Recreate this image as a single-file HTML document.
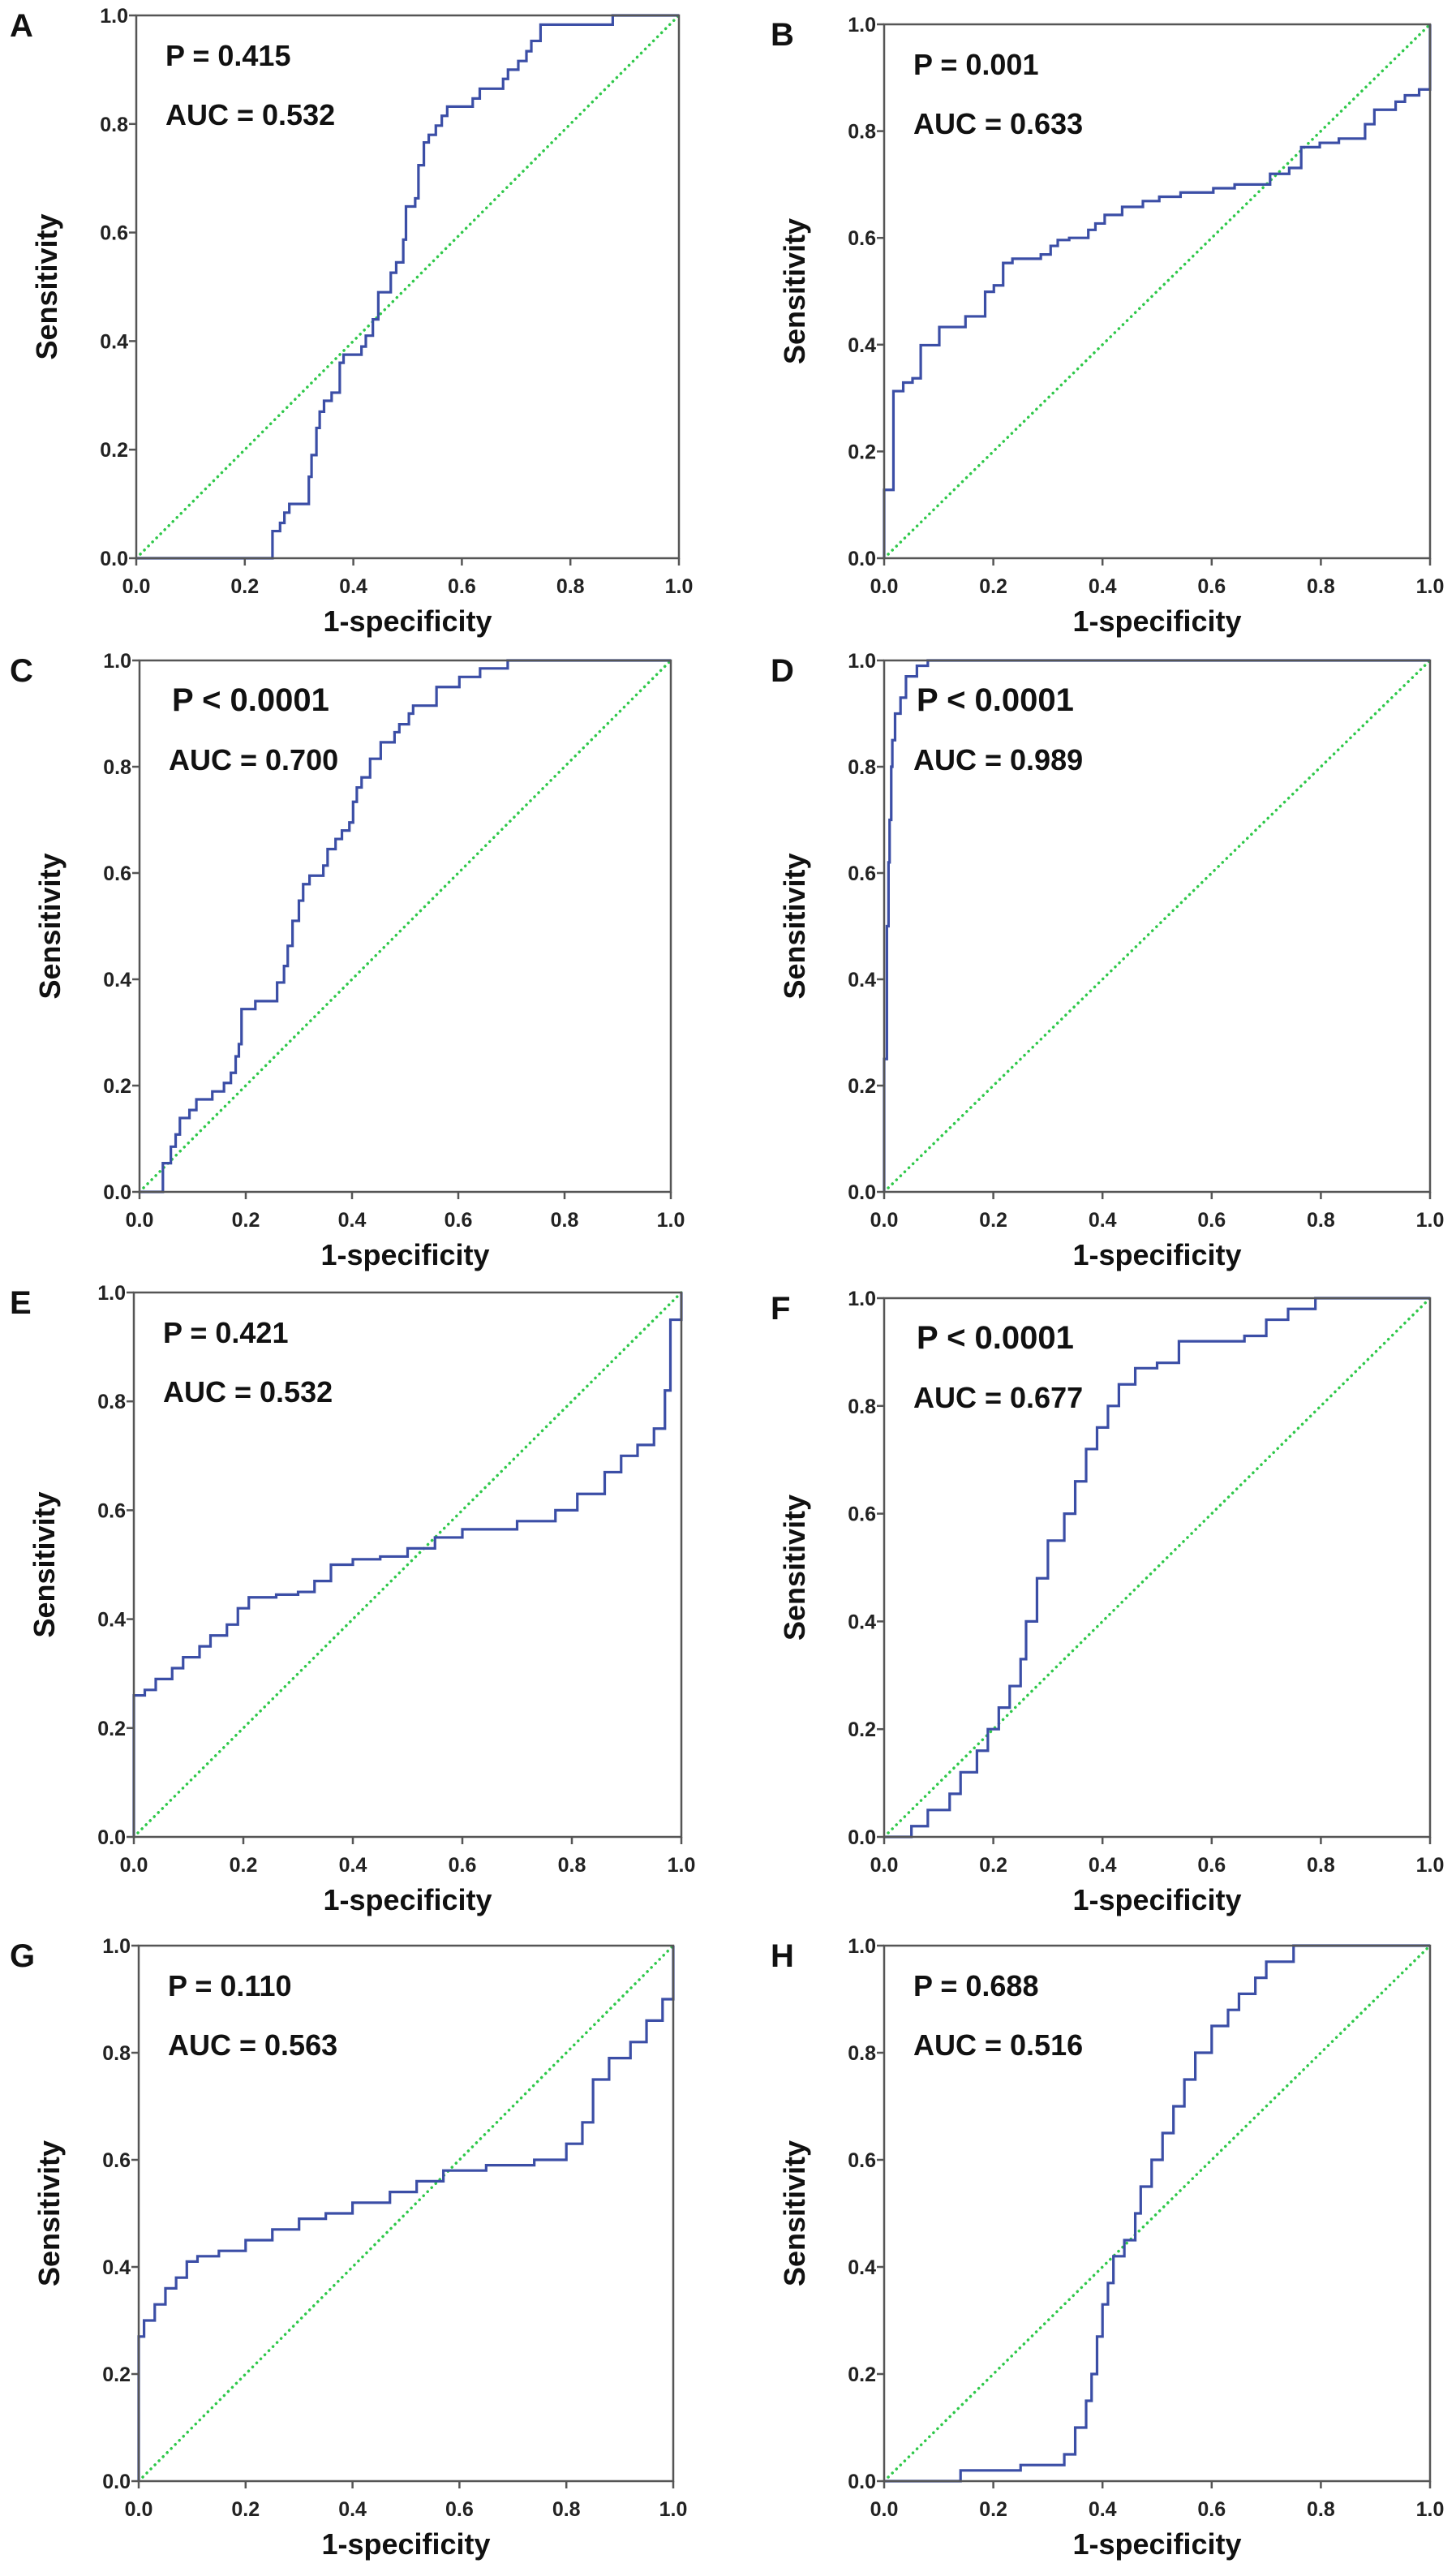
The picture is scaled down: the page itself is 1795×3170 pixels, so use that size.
<!DOCTYPE html>
<html><head><meta charset="utf-8"><style>
html,body{margin:0;padding:0;background:#fff;}
svg{display:block;font-family:"Liberation Sans",Arial,sans-serif;}
</style></head><body>
<svg id="fig" width="1795" height="3170" viewBox="0 0 1795 3170" xmlns="http://www.w3.org/2000/svg"></svg>
<script>
// Panel data (ROC step vertices: horizontal to fpr, then vertical to tpr)
const fprA=[0.251,0.265,0.273,0.282,0.318,0.323,0.332,0.338,0.346,0.36,0.375,0.382,0.415,0.423,0.436,0.446,0.469,0.479,0.492,0.497,0.514,0.52,0.53,0.539,0.552,0.563,0.573,0.62,0.633,0.676,0.685,0.704,0.719,0.728,0.745,0.878,1.0];
const tprA=[0.05,0.065,0.084,0.10,0.15,0.19,0.24,0.27,0.29,0.305,0.36,0.375,0.39,0.41,0.44,0.49,0.526,0.545,0.587,0.648,0.663,0.724,0.766,0.78,0.797,0.815,0.832,0.847,0.865,0.883,0.90,0.916,0.934,0.953,0.983,1.0,1.0];
const fprB=[0,0.017,0.035,0.052,0.067,0.101,0.149,0.185,0.201,0.218,0.235,0.287,0.305,0.318,0.339,0.374,0.387,0.404,0.436,0.474,0.504,0.543,0.603,0.642,0.707,0.742,0.764,0.798,0.833,0.881,0.898,0.937,0.954,0.98,1.0];
const tprB=[0.128,0.313,0.329,0.337,0.399,0.433,0.453,0.499,0.511,0.553,0.561,0.569,0.585,0.596,0.60,0.615,0.627,0.643,0.658,0.669,0.677,0.685,0.693,0.70,0.72,0.731,0.77,0.778,0.786,0.813,0.84,0.855,0.867,0.878,1.0];
const fprC=[0.044,0.059,0.068,0.076,0.094,0.107,0.137,0.159,0.172,0.181,0.187,0.192,0.218,0.259,0.272,0.279,0.288,0.30,0.308,0.32,0.346,0.354,0.369,0.381,0.395,0.402,0.409,0.418,0.434,0.454,0.48,0.489,0.507,0.515,0.559,0.602,0.641,0.693,1.0];
const tprC=[0.054,0.085,0.108,0.139,0.154,0.174,0.189,0.205,0.224,0.255,0.278,0.344,0.359,0.394,0.425,0.463,0.51,0.548,0.579,0.595,0.614,0.645,0.664,0.68,0.695,0.734,0.761,0.78,0.815,0.846,0.865,0.88,0.90,0.915,0.95,0.969,0.985,1.0,1.0];
const fprD=[0,0.005,0.008,0.01,0.013,0.015,0.02,0.03,0.04,0.06,0.08,1.0];
const tprD=[0.25,0.5,0.62,0.7,0.8,0.85,0.9,0.93,0.97,0.99,1.0,1.0];
const fprE=[0,0.02,0.04,0.07,0.09,0.12,0.14,0.17,0.19,0.21,0.26,0.3,0.33,0.36,0.4,0.45,0.5,0.55,0.6,0.7,0.77,0.81,0.86,0.89,0.92,0.95,0.97,0.98,1.0];
const tprE=[0.26,0.27,0.29,0.31,0.33,0.35,0.37,0.39,0.42,0.44,0.445,0.45,0.47,0.5,0.51,0.515,0.53,0.55,0.565,0.58,0.6,0.63,0.67,0.7,0.72,0.75,0.82,0.95,1.0];
const fprF=[0.05,0.08,0.12,0.14,0.17,0.19,0.21,0.23,0.25,0.26,0.28,0.3,0.33,0.35,0.37,0.39,0.41,0.43,0.46,0.5,0.54,0.66,0.7,0.74,0.79,1.0];
const tprF=[0.02,0.05,0.08,0.12,0.16,0.2,0.24,0.28,0.33,0.4,0.48,0.55,0.6,0.66,0.72,0.76,0.8,0.84,0.87,0.88,0.92,0.93,0.96,0.98,1.0,1.0];
const fprG=[0,0.01,0.03,0.05,0.07,0.09,0.11,0.15,0.2,0.25,0.3,0.35,0.4,0.47,0.52,0.57,0.65,0.74,0.8,0.83,0.85,0.88,0.92,0.95,0.98,1.0,1.0];
const tprG=[0.27,0.3,0.33,0.36,0.38,0.41,0.42,0.43,0.45,0.47,0.49,0.5,0.52,0.54,0.56,0.58,0.59,0.6,0.63,0.67,0.75,0.79,0.82,0.86,0.9,0.91,1.0];
const fprH=[0.14,0.25,0.33,0.35,0.37,0.38,0.39,0.4,0.41,0.42,0.44,0.46,0.47,0.49,0.51,0.53,0.55,0.57,0.6,0.63,0.65,0.68,0.7,0.75,1.0];
const tprH=[0.02,0.03,0.05,0.1,0.15,0.2,0.27,0.33,0.37,0.42,0.45,0.5,0.55,0.6,0.65,0.7,0.75,0.8,0.85,0.88,0.91,0.94,0.97,1.0,1.0];
const tickLabels=["0.0","0.2","0.4","0.6","0.8","1.0"];
const tickValues=[0,0.2,0.4,0.6,0.8,1.0];
const pLabels=["P = 0.415","P = 0.001","P < 0.0001","P < 0.0001","P = 0.421","P < 0.0001","P = 0.110","P = 0.688"];
const aucLabels=["AUC = 0.532","AUC = 0.633","AUC = 0.700","AUC = 0.989","AUC = 0.532","AUC = 0.677","AUC = 0.563","AUC = 0.516"];
const letters=["A","B","C","D","E","F","G","H"];

const panels=[
 {L:168,R:837,T:19,B:688,fx:fprA,ty:tprA,lx:12},
 {L:1090,R:1763,T:30,B:688,fx:fprB,ty:tprB,lx:950},
 {L:172,R:827,T:814,B:1469,fx:fprC,ty:tprC,lx:12},
 {L:1090,R:1763,T:814,B:1469,fx:fprD,ty:tprD,lx:950},
 {L:165,R:840,T:1593,B:2264,fx:fprE,ty:tprE,lx:12},
 {L:1090,R:1763,T:1600,B:2264,fx:fprF,ty:tprF,lx:950},
 {L:171,R:830,T:2398,B:3058,fx:fprG,ty:tprG,lx:12},
 {L:1090,R:1763,T:2398,B:3058,fx:fprH,ty:tprH,lx:950}
];
const NS="http://www.w3.org/2000/svg";
const svg=document.getElementById("fig");
function mk(tag,attrs,parent){const e=document.createElementNS(NS,tag);for(const k in attrs)e.setAttribute(k,attrs[k]);(parent||svg).appendChild(e);return e;}

panels.forEach((p,i)=>{
  const g=mk("g",{});
  
  
  const xs=v=>p.L+v*(p.R-p.L);
  const ys=v=>p.B-v*(p.B-p.T);
  // panel letter
  const lt=mk("text",{x:p.lx,y:p.T+26,"font-size":40,"font-weight":"bold",fill:"#111"},g);
  lt.textContent=letters[i];
  
  
  // diagonal reference
  const d=mk("line",{x1:xs(0),y1:ys(0),x2:xs(1),y2:ys(1),stroke:"#2fc84a","stroke-width":3.5,"stroke-dasharray":"0.1 7","stroke-linecap":"round"},g);
  
  
  // ROC curve
  let path="M"+xs(0)+","+ys(0);
  for(let k=0;k<p.fx.length;k++){path+=" H"+xs(p.fx[k])+" V"+ys(p.ty[k]);}
  const c=mk("path",{d:path,fill:"none",stroke:"#3b4ea6","stroke-width":3.2,"stroke-linejoin":"miter"},g);
  
  
  // frame
  const f=mk("rect",{x:p.L,y:p.T,width:p.R-p.L,height:p.B-p.T,fill:"none",stroke:"#555","stroke-width":2.5},g);
  
  
  // ticks
  tickValues.forEach((v,k)=>{
    const tx=mk("line",{x1:xs(v),y1:p.B,x2:xs(v),y2:p.B+9,stroke:"#555","stroke-width":2.5},g);
    
    
    const tl=mk("text",{x:xs(v),y:p.B+43,"font-size":25,"font-weight":"bold",fill:"#222","text-anchor":"middle"},g);
    tl.textContent=tickLabels[k];
    
    
    const ty=mk("line",{x1:p.L-9,y1:ys(v),x2:p.L,y2:ys(v),stroke:"#555","stroke-width":2.5},g);
    
    
    const yl=mk("text",{x:p.L-10,y:ys(v)+9,"font-size":25,"font-weight":"bold",fill:"#222","text-anchor":"end"},g);
    yl.textContent=tickLabels[k];
    
    
  });
  // axis titles
  const xt=mk("text",{x:(p.L+p.R)/2,y:p.B+90,"font-size":36,"font-weight":"bold",fill:"#111","text-anchor":"middle"},g);
  xt.textContent="1-specificity";
  
  
  const yx=p.L-98, yc=(p.T+p.B)/2;
  const yt=mk("text",{x:yx,y:yc,"font-size":36,"font-weight":"bold",fill:"#111","text-anchor":"middle",transform:"rotate(-90 "+yx+" "+yc+")"},g);
  yt.textContent="Sensitivity";
  
  
  // annotations
  const big=pLabels[i].indexOf("<")>=0;
  const pt=mk("text",{x:p.L+(big?40:36),y:p.T+62,"font-size":big?40:36,"font-weight":"bold",fill:"#111"},g);
  pt.textContent=pLabels[i];
  
  
  const at=mk("text",{x:p.L+36,y:p.T+135,"font-size":36,"font-weight":"bold",fill:"#111"},g);
  at.textContent=aucLabels[i];
  
  
});
</script>
</body></html>
